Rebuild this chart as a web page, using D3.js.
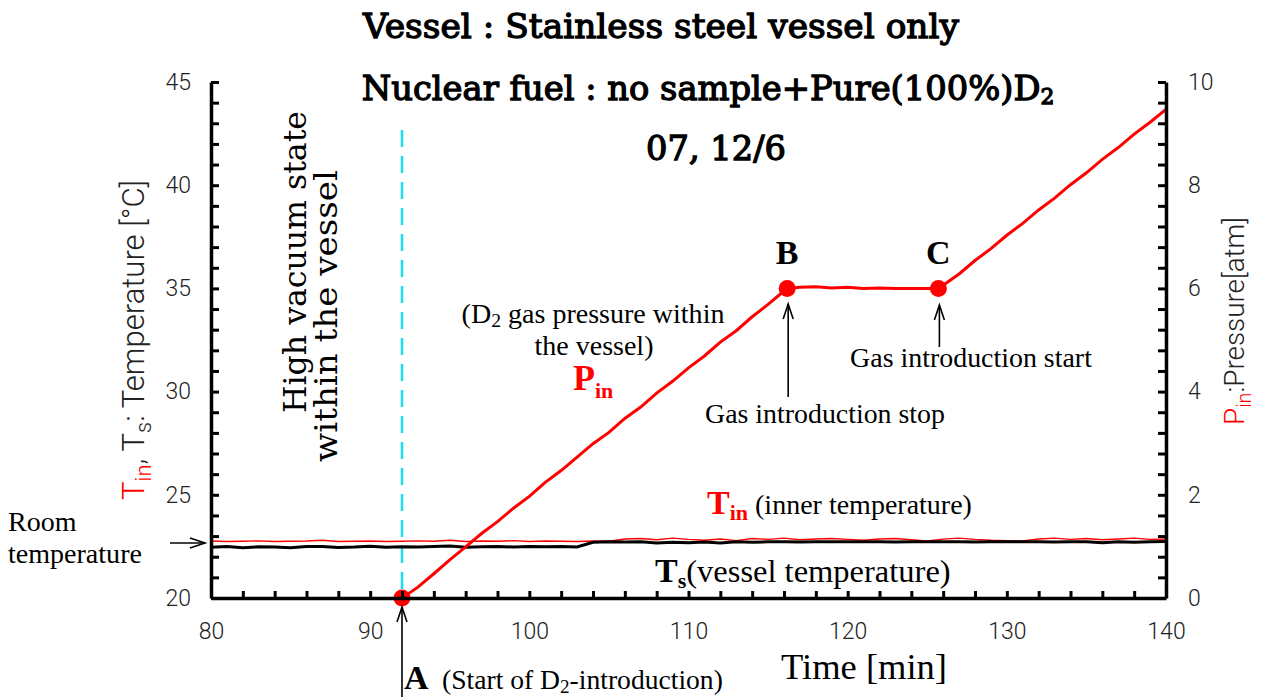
<!DOCTYPE html>
<html><head><meta charset="utf-8">
<script src="https://cdn.jsdelivr.net/npm/d3@7"></script>
<style>body{margin:0;background:#fff;} svg{display:block;}</style>
</head><body><svg id="c" width="1263" height="697"></svg>
<script>
// ---------- data ----------
const tempTime = [80,81,82,83,84,85,86,87,88,89,90,91,92,93,94,95,96,97,98,99,100,101,102,103,104,105,106,107,108,109,110,111,112,113,114,115,116,117,118,119,120,121,122,123,124,125,126,127,128,129,130,131,132,133,134,135,136,137,138,139,140];
const tinValues = [22.76,22.74,22.75,22.77,22.74,22.75,22.76,22.80,22.74,22.75,22.76,22.74,22.75,22.77,22.75,22.80,22.74,22.76,22.75,22.78,22.74,22.76,22.75,22.74,22.76,22.75,22.86,22.88,22.82,22.90,22.84,22.80,22.86,22.78,22.88,22.84,22.90,22.82,22.86,22.88,22.84,22.80,22.86,22.88,22.82,22.76,22.85,22.90,22.84,22.80,22.78,22.76,22.86,22.90,22.84,22.88,22.82,22.86,22.90,22.84,22.86];
const tsValues  = [22.46,22.50,22.44,22.48,22.47,22.43,22.49,22.50,22.45,22.47,22.51,22.46,22.48,22.47,22.49,22.52,22.46,22.48,22.50,22.47,22.49,22.48,22.50,22.47,22.70,22.72,22.71,22.73,22.66,22.70,22.68,22.71,22.67,22.72,22.70,22.72,22.73,22.71,22.72,22.73,22.72,22.72,22.73,22.71,22.72,22.72,22.73,22.72,22.71,22.72,22.73,22.72,22.72,22.71,22.73,22.72,22.68,22.73,22.70,22.72,22.74];
const presTime = [92,93,94,95,96,97,98,99,100,101,102,103,104,105,106,107,108,109,110,111,112,113,114,115,116,116.2,117,118,119,120,121,122,123,124,125,125.7,126,127,128,129,130,131,132,133,134,135,136,137,138,139,140];
const presValues = [0,0.21,0.47,0.74,0.99,1.25,1.48,1.74,1.97,2.24,2.47,2.73,2.99,3.21,3.48,3.70,3.97,4.20,4.46,4.69,4.96,5.18,5.45,5.69,5.95,6.00,6.02,6.03,6.01,6.02,6.00,6.01,6.00,6.00,6.00,6.00,6.06,6.28,6.54,6.77,7.03,7.26,7.52,7.75,8.01,8.24,8.50,8.73,8.99,9.22,9.47];
const markerTime = [92,116.2,125.7];
const markerPres = [0,6,6];
const markerNames = ["A","B","C"];
const timeTicks = [80,90,100,110,120,130,140];
const tempTickLabels = [20,25,30,35,40,45];
const presTickLabels = [0,2,4,6,8,10];

// ---------- scales ----------
const svg = d3.select("#c");
const x = d3.scaleLinear().domain([80,140]).range([211,1166]);
const yT = d3.scaleLinear().domain([20,45]).range([598,82]);
const yP = d3.scaleLinear().domain([0,10]).range([598,82]);

const tickFont = "Roboto, 'Liberation Sans', sans-serif";
const serif = "'Liberation Serif', 'Times New Roman', serif";
const century = "'DejaVu Serif', serif";

// fit width by font size
function fit(sel, target){ const w = sel.node().getComputedTextLength(); const fs = parseFloat(sel.attr("font-size")); sel.attr("font-size", fs*target/w); sel.selectAll("tspan[font-size]").each(function(){ const t=d3.select(this); t.attr("font-size", parseFloat(t.attr("font-size"))*target/w); }); }
// fit width by horizontal scaling (keeps glyph height)
function squeeze(sel, cx, cy, target, rot){
  const w = sel.node().getBBox().width;
  sel.attr("transform", `translate(${cx},${cy})${rot?` rotate(${rot})`:''} scale(${target/w},1)`);
}

// cyan dashed line
svg.append("line").attr("x1",x(92)).attr("x2",x(92)).attr("y1",130).attr("y2",598)
  .attr("stroke","#1cdcf0").attr("stroke-width",2.5).attr("stroke-dasharray","17,9");

// temperature lines
const lineT = (vals)=> d3.line().x((d,i)=>x(tempTime[i])).y(d=>yT(d))(vals);
svg.append("path").attr("d",lineT(tinValues)).attr("fill","none").attr("stroke","#ff0000").attr("stroke-width",1.4);
svg.append("path").attr("d",lineT(tsValues)).attr("fill","none").attr("stroke","#000").attr("stroke-width",3);

// pressure
const lineP = d3.line().x((d,i)=>x(presTime[i])).y(d=>yP(d));
svg.append("path").attr("d",lineP(presValues)).attr("fill","none").attr("stroke","#ff0000").attr("stroke-width",3);
svg.selectAll("circle.m").data(markerTime).join("circle").attr("class","m")
  .attr("cx",(d)=>x(d)).attr("cy",(d,i)=>yP(markerPres[i])).attr("r",8.5).attr("fill","#ff0000");

// axes
function styleAxis(g){
  g.select(".domain").attr("stroke","#000").attr("stroke-width",3.5);
  g.selectAll(".tick line").attr("stroke","#000").attr("stroke-width",3);
  g.selectAll(".tick text").attr("font-family",tickFont).attr("font-weight",300).attr("font-size",23).attr("fill","#222");
}
const tempMinor = d3.range(20,45.001,1);
const gL = svg.append("g").attr("transform","translate(211,0)")
  .call(d3.axisLeft(yT).tickValues(tempMinor).tickSize(-8).tickSizeOuter(0).tickPadding(20)
    .tickFormat(d=> tempTickLabels.includes(d)? d : ""));
styleAxis(gL);
const presMinor = d3.range(0,10.001,0.4).map(v=>+v.toFixed(1));
const gR = svg.append("g").attr("transform","translate(1166,0)")
  .call(d3.axisRight(yP).tickValues(presMinor).tickSize(-8).tickSizeOuter(0).tickPadding(22)
    .tickFormat(d=> presTickLabels.includes(d)? d : ""));
styleAxis(gR);
const timeMinor = d3.range(80,140.001,2);
const gB = svg.append("g").attr("transform","translate(0,598)")
  .call(d3.axisBottom(x).tickValues(timeMinor).tickSize(-7).tickSizeOuter(0).tickPadding(25)
    .tickFormat(d=> timeTicks.includes(d)? d : ""));
styleAxis(gB);

// axis titles
const lt = svg.append("text").attr("transform","translate(144,340) rotate(-90)").attr("text-anchor","middle")
  .attr("font-family",tickFont).attr("font-weight",300).attr("font-size",27).attr("fill","#222");
lt.append("tspan").attr("fill","#ff0000").text("T");
lt.append("tspan").attr("fill","#ff0000").attr("font-size",19).attr("dy",7).text("in");
lt.append("tspan").attr("dy",-7).text(", T");
lt.append("tspan").attr("font-size",19).attr("dy",7).text("s");
lt.append("tspan").attr("dy",-7).text(": Temperature [°C]");
fit(lt,320);

const rt = svg.append("text").attr("transform","translate(1244,321) rotate(-90)").attr("text-anchor","middle")
  .attr("font-family",tickFont).attr("font-weight",300).attr("font-size",27).attr("fill","#222");
rt.append("tspan").attr("fill","#ff0000").text("P");
rt.append("tspan").attr("fill","#ff0000").attr("font-size",19).attr("dy",7).text("in");
rt.append("tspan").attr("dy",-7).text(":Pressure[atm]");
fit(rt,208);

const tm = svg.append("text").attr("x",864).attr("y",679).attr("text-anchor","middle").attr("font-family",serif)
  .attr("font-size",35).text("Time [min]");
fit(tm,166);

// titles (Century-like: tall, moderately bold, horizontally condensed)
function titleText(){ return svg.append("text").attr("text-anchor","middle").attr("font-family",century)
  .attr("font-size",34).attr("stroke","#000").attr("stroke-width",1.3); }
const t1 = titleText().text("Vessel : Stainless steel vessel only");
squeeze(t1,661,38,598);
const t2 = titleText();
t2.append("tspan").text("Nuclear fuel : no sample+Pure(100%)D");
t2.append("tspan").attr("font-size",22).attr("dy",4).text("2");
squeeze(t2,708,100,693);
const t3 = titleText().text("07, 12/6");
squeeze(t3,716,160,140);

// vertical annotation
const v1 = svg.append("text").attr("text-anchor","middle")
  .attr("font-family",century).attr("font-size",31).text("High vacuum state");
squeeze(v1,306,262,302,-90);
const v2 = svg.append("text").attr("text-anchor","middle")
  .attr("font-family",century).attr("font-size",31).text("within the vessel");
squeeze(v2,337,316,292,-90);

// annotations
function arrowUp(xp, yTop, yBot){
  svg.append("line").attr("x1",xp).attr("x2",xp).attr("y1",yTop).attr("y2",yBot).attr("stroke","#000").attr("stroke-width",1.6);
  svg.append("path").attr("d",`M${xp-5},${yTop+15}L${xp},${yTop}L${xp+5},${yTop+15}`).attr("fill","none").attr("stroke","#000").attr("stroke-width",1.6);
}
arrowUp(x(92), 607, 697);
arrowUp(x(116.2)+1, 304, 397);
arrowUp(x(125.7)+1, 305, 347);
// room temperature arrow
svg.append("line").attr("x1",170).attr("x2",205).attr("y1",543).attr("y2",543).attr("stroke","#000").attr("stroke-width",1.6);
svg.append("path").attr("d","M190,538L205,543L190,548").attr("fill","none").attr("stroke","#000").attr("stroke-width",1.6);

svg.append("text").attr("x",8).attr("y",531).attr("font-family",serif).attr("font-size",28).text("Room");
const rtemp = svg.append("text").attr("x",8).attr("y",563).attr("font-family",serif).attr("font-size",28).text("temperature");
fit(rtemp,134);

svg.selectAll("text.lab").data(markerNames.slice(1)).join("text").attr("class","lab")
  .attr("x",(d,i)=>x(markerTime[i+1])).attr("y",264).attr("text-anchor","middle").attr("font-family",serif)
  .attr("font-weight","bold").attr("font-size",34).text(d=>d);

svg.append("text").attr("x",404).attr("y",689).attr("font-family",serif)
  .attr("font-weight","bold").attr("font-size",34).text(markerNames[0]);
const ta = svg.append("text").attr("x",442).attr("y",689).attr("font-family",serif).attr("font-size",26);
ta.append("tspan").text("(Start of D");
ta.append("tspan").attr("font-size",18).attr("dy",4).text("2");
ta.append("tspan").attr("dy",-4).text("-introduction)");
fit(ta,281);

const gs = svg.append("text").attr("x",825).attr("y",423).attr("text-anchor","middle").attr("font-family",serif).attr("font-size",27).text("Gas introduction stop");
fit(gs,240);
const gst = svg.append("text").attr("x",971).attr("y",367).attr("text-anchor","middle").attr("font-family",serif).attr("font-size",27).text("Gas introduction start");
fit(gst,242);

const dg = svg.append("text").attr("x",593).attr("y",323).attr("text-anchor","middle").attr("font-family",serif).attr("font-size",27);
dg.append("tspan").text("(D");
dg.append("tspan").attr("font-size",19).attr("dy",4).text("2");
dg.append("tspan").attr("dy",-4).text(" gas pressure within");
fit(dg,263);
const tv = svg.append("text").attr("x",594).attr("y",355).attr("text-anchor","middle").attr("font-family",serif).attr("font-size",27).text("the vessel)");
fit(tv,119);

const pin = svg.append("text").attr("x",573).attr("y",390).attr("font-family",serif).attr("font-weight","bold").attr("fill","#ff0000");
pin.append("tspan").attr("font-size",36).text("P");
pin.append("tspan").attr("font-size",22).attr("dy",8).text("in");

const tin = svg.append("text").attr("x",707).attr("y",514).attr("font-family",serif);
tin.append("tspan").attr("font-weight","bold").attr("fill","#ff0000").attr("font-size",34).text("T");
tin.append("tspan").attr("font-weight","bold").attr("fill","#ff0000").attr("font-size",22).attr("dy",6).text("in");
tin.append("tspan").attr("font-size",28).attr("dy",-6).attr("dx",7).text("(inner temperature)");

const tsl = svg.append("text").attr("x",655).attr("y",582).attr("font-family",serif);
tsl.append("tspan").attr("font-weight","bold").attr("font-size",34).text("T");
tsl.append("tspan").attr("font-weight","bold").attr("font-size",22).attr("dy",6).text("s");
tsl.append("tspan").attr("font-size",32.5).attr("dy",-6).text("(vessel temperature)");
</script></body></html>
